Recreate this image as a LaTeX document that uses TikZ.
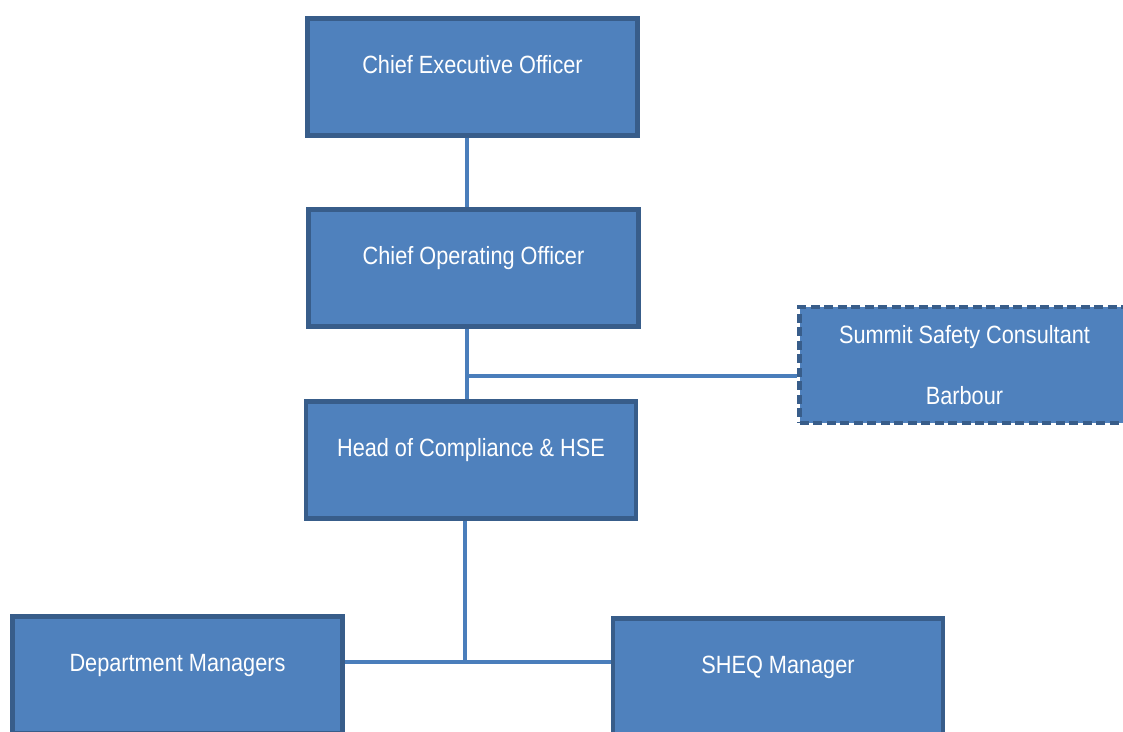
\documentclass[tikz,border=0pt]{standalone}
\usepackage{fontspec}
\setmainfont[FakeStretch=0.87]{Liberation Sans}
\usepackage{tikz}
\usetikzlibrary{positioning}
\usetikzlibrary{calc}
\definecolor{boxfill}{HTML}{4F81BD}
\definecolor{boxline}{HTML}{385D8A}
\definecolor{linkline}{HTML}{4A7EBB}
\pgfdeclarelayer{orgbg}
\pgfsetlayers{orgbg,main}
\tikzset{
	role/.style={draw=boxline, line width=2.6pt, fill=boxfill, text=white, rectangle,
		minimum width=6.6cm, inner sep=0pt, text height=1.1cm, text depth=1.24cm,
		font=\fontsize{14.2pt}{17pt}\selectfont},
	outside/.style={draw=boxline, line width=2.6pt, fill=boxfill, text=white, rectangle,
		dash pattern=on 0.18cm off 0.09cm, align=center, inner sep=0pt,
		minimum width=6.6cm, minimum height=2.32cm,
		font=\fontsize{14.2pt}{17pt}\selectfont},
	link/.style={draw=linkline, line width=2.6pt}
}

\begin{document}
\begin{tikzpicture}[x=0.02cm, y=-0.02cm]
	\useasboundingbox (0,0) rectangle (1123,731);

	\node [role] at (472.5,77) (ceo) {Chief Executive Officer};
	\node [role] at (473.5,268) (coo) {Chief Operating Officer};
	\node [role] at (471,460) (head) {Head of Compliance \& HSE};
	\node [outside] at (964.5,365) (summit) {Summit Safety Consultant\\[18.2pt]Barbour};
	\node [role] at (177.5,675) (dept) {Department Managers};
	\node [role] at (778,677) (sheq) {SHEQ Manager};

	\coordinate (spine) at (467,0);
	\coordinate (tee) at (467,376);
	\coordinate (join) at (465,662);

	\begin{pgfonlayer}{orgbg}
	\fill[white] (0,0) rectangle (1123,731);
	\draw [link] (ceo.south -| spine) -- (coo.north -| spine);
	\draw [link] (coo.south -| spine) -- (head.north -| spine);
	\draw [link] (tee) -- (summit.west |- tee);
	\draw [link] (head.south -| join) -- (join);
	\draw [link] (dept.east |- join) -- (sheq.west |- join);
	\end{pgfonlayer}
\end{tikzpicture}
\end{document}
